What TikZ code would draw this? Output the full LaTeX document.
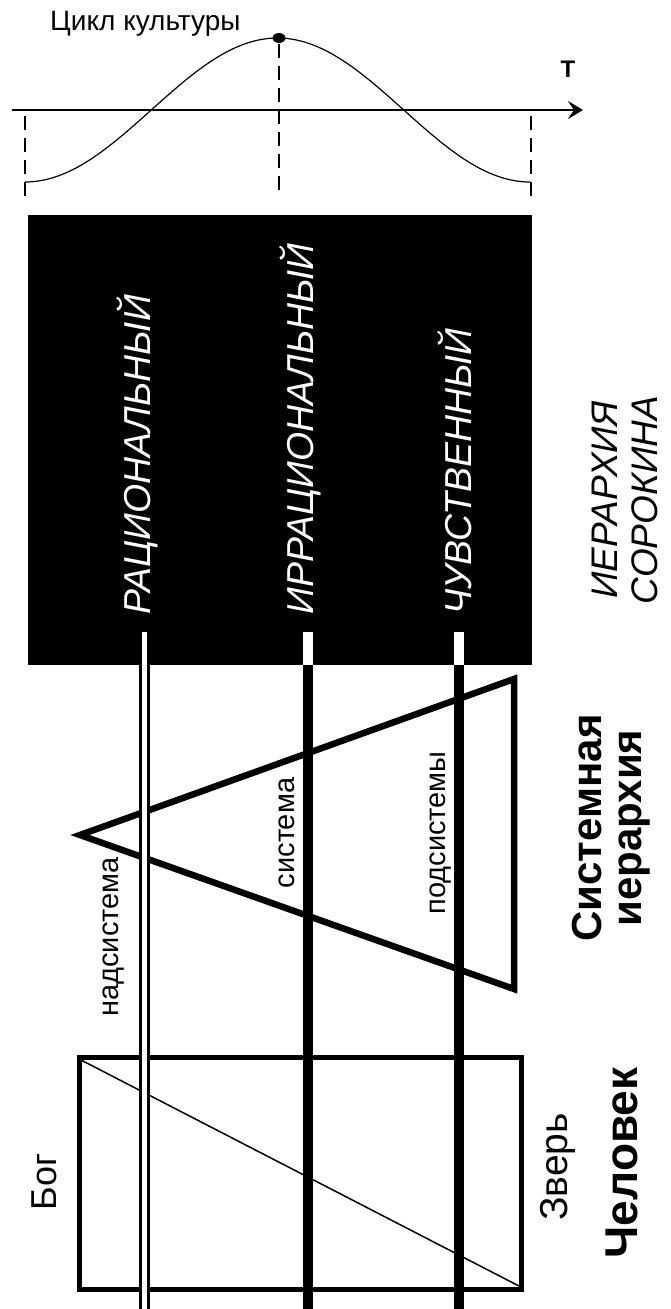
\documentclass[tikz,border=0pt]{standalone}
\usepackage{fontspec}
\setmainfont{Liberation Sans}
\usetikzlibrary{arrows.meta, positioning, calc}
\tikzset{
	vtxt/.style   ={rotate=90, inner sep=0pt, font=\fontsize{29}{29}\selectfont},
	boxtxt/.style ={rotate=90, anchor=west, inner sep=0pt, text=white, font=\itshape\fontsize{37.5}{37.5}\selectfont},
	headtxt/.style={rotate=90, inner sep=0pt, align=center, font=\bfseries\fontsize{42}{40}\selectfont},
	% level lines
	level/.style  ={line width=10pt},
	dlevel/.style ={line width=3pt, double=white, double distance=5pt},
	stub/.style   ={fill=white},
	guide/.style  ={line width=1.3pt, dash pattern=on 14pt off 8pt},
}
\begin{document}
\begin{tikzpicture}[x=1pt, y=-1pt]
	\useasboundingbox (0,0) rectangle (670,1309);
	% culture cycle
	\coordinate (a0) at (12,110);
	\coordinate (a1) at (583,110);
	\draw[line width=1.5pt, -{Stealth[length=15pt, width=18pt, inset=6pt]}] (a0) -- (a1);
	\node[font=\bfseries\fontsize{24}{24}\selectfont, inner sep=0pt] (t) at (568,69) {T};
	\draw[line width=1.2pt] plot[domain=25:530, samples=120] (\x, {110+72*cos((\x-25)/505*360)});
	\coordinate (pk) at (279,38);
	\fill (pk) ellipse (6.5pt and 5pt);
	\node[anchor=west, inner sep=0pt, font=\fontsize{28}{28}\selectfont] (cyc) at (50,24) {Цикл культуры};
	\coordinate (g1) at (25,116);  \coordinate (g1e) at (25,200);
	\coordinate (g2) at (279,44);  \coordinate (g2e) at (279,194);
	\coordinate (g3) at (531,116); \coordinate (g3e) at (531,200);
	\draw[guide] (g1) -- (g1e);
	\draw[guide] (g2) -- (g2e);
	\draw[guide] (g3) -- (g3e);
	% Sorokin box
	\fill (28,215) rectangle (532,665);
	\node[boxtxt] (rat) at (137,615) {РАЦИОНАЛЬНЫЙ};
	\node[boxtxt] (irr) at (300,615) {ИРРАЦИОНАЛЬНЫЙ};
	\node[boxtxt] (sen) at (455,615) {ЧУВСТВЕННЫЙ};
	\node[headtxt, font=\itshape\fontsize{37}{40}\selectfont] (sor) at (625,500) {ИЕРАРХИЯ\\СОРОКИНА};
	% system triangle
	\draw[line width=6.5pt, line join=miter, miter limit=10] (80,835) -- (514,679) -- (514,989) -- cycle;
	\node[vtxt] (sup) at (114,937) {надсистема};
	\node[vtxt] (sys) at (287,833) {система};
	\node[vtxt] (sub) at (441,833) {подсистемы};
	\node[headtxt] (shr) at (611,828) {Системная\\иерархия};
	% man
	\draw[line width=5pt] (79,1057) rectangle (521,1289);
	\draw[line width=1.5pt] (81,1060) -- (519,1286);
	\node[vtxt, font=\fontsize{36}{36}\selectfont] (god) at (44,1182) {Бог};
	\node[vtxt, font=\fontsize{39}{39}\selectfont] (bst) at (558,1167) {Зверь};
	\node[headtxt, font=\bfseries\fontsize{46}{46}\selectfont] (man) at (622,1163) {Человек};
	% levels
	\coordinate (l2) at (308,665); \coordinate (l2e) at (308,1309);
	\coordinate (l3) at (459,665); \coordinate (l3e) at (459,1309);
	\coordinate (l1) at (144,632); \coordinate (l1e) at (144,1309);
	\draw[level] (l2) -- (l2e);
	\draw[level] (l3) -- (l3e);
	\fill[stub] (303,632) rectangle (313,665);
	\fill[stub] (454,632) rectangle (464,665);
	\draw[dlevel] (l1) -- (l1e);
\end{tikzpicture}
\end{document}
